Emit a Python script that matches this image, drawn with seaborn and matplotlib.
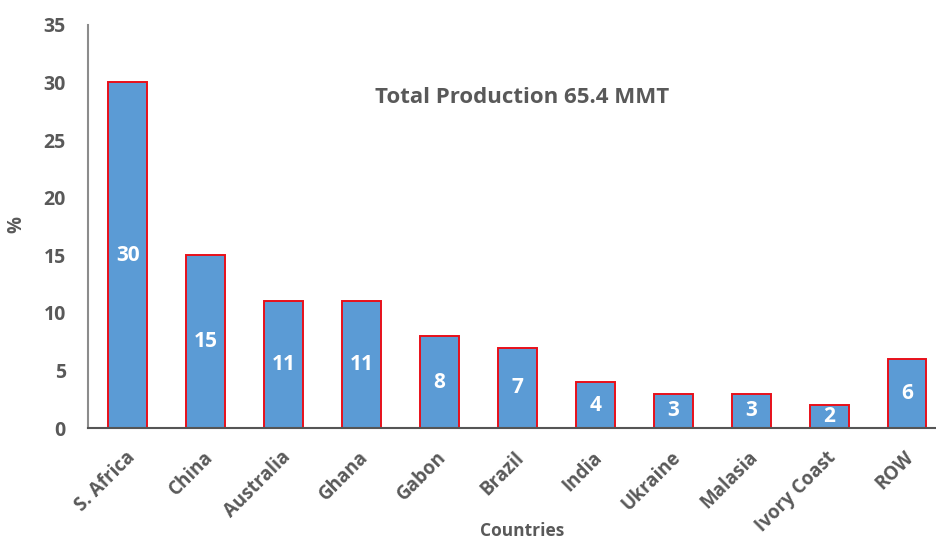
import matplotlib
matplotlib.use("Agg")
import matplotlib.pyplot as plt
import matplotlib.transforms as mtransforms
import seaborn as sns
import pandas as pd

countries = ["S. Africa", "China", "Australia", "Ghana", "Gabon", "Brazil",
             "India", "Ukraine", "Malasia", "Ivory Coast", "ROW"]
shares = [30, 15, 11, 11, 8, 7, 4, 3, 3, 2, 6]
y_ticks = [0, 5, 10, 15, 20, 25, 30, 35]

sns.set_theme(style="white")
plt.rcParams["font.family"] = ["Open Sans", "DejaVu Sans"]

gray = "#595959"
df = pd.DataFrame({"country": countries, "share": shares})

fig = plt.figure(figsize=(9.36, 5.4), dpi=100)
ax = fig.add_axes([0.094, 0.207, 0.905, 0.747])

sns.barplot(data=df, x="country", y="share", color="#5B9BD5", saturation=1,
            width=0.5, edgecolor="#E8101A", linewidth=1.4, ax=ax)

ax.set_ylim(0, 35)
ax.set_xlim(-0.51, 10.36)
ax.set_yticks(y_ticks)
ax.set_yticklabels([str(t) for t in y_ticks], fontsize=14,
                   fontweight="bold", color=gray)
ax.tick_params(axis="y", length=0, pad=16)
ax.tick_params(axis="x", length=0, pad=2)
ax.set_xticks(range(len(countries)))
ax.set_xticklabels(countries, rotation=45, ha="right", rotation_mode="anchor",
                   fontsize=13.5, fontweight="bold", color=gray)
# nudge the rotated labels so their ends sit just under each bar
shift = mtransforms.ScaledTranslation(-2 / 72, -12 / 72, fig.dpi_scale_trans)
for lbl in ax.get_xticklabels():
    lbl.set_transform(lbl.get_transform() + shift)

ax.set_xlabel("Countries", fontsize=12.5, fontweight="bold", color=gray,
              va="center")
ax.xaxis.set_label_coords(0.512, -0.255)
ax.set_ylabel("%", fontsize=13.5, fontweight="bold", color=gray)
ax.yaxis.set_label_coords(-0.073, 0.505)

for side in ("top", "right"):
    ax.spines[side].set_visible(False)
ax.spines["left"].set_color("#8c8c8c")
ax.spines["left"].set_linewidth(1.5)
ax.spines["bottom"].set_color("#555555")
ax.spines["bottom"].set_linewidth(1.5)

for i, v in enumerate(shares):
    ax.text(i, v / 2, str(v), ha="center", va="center", color="white",
            fontsize=15, fontweight="bold")

ax.text(0.512, 0.819, "Total Production 65.4 MMT", transform=ax.transAxes,
        ha="center", va="center", fontsize=16, fontweight="bold", color=gray)

fig.savefig("out.png", dpi=100)
